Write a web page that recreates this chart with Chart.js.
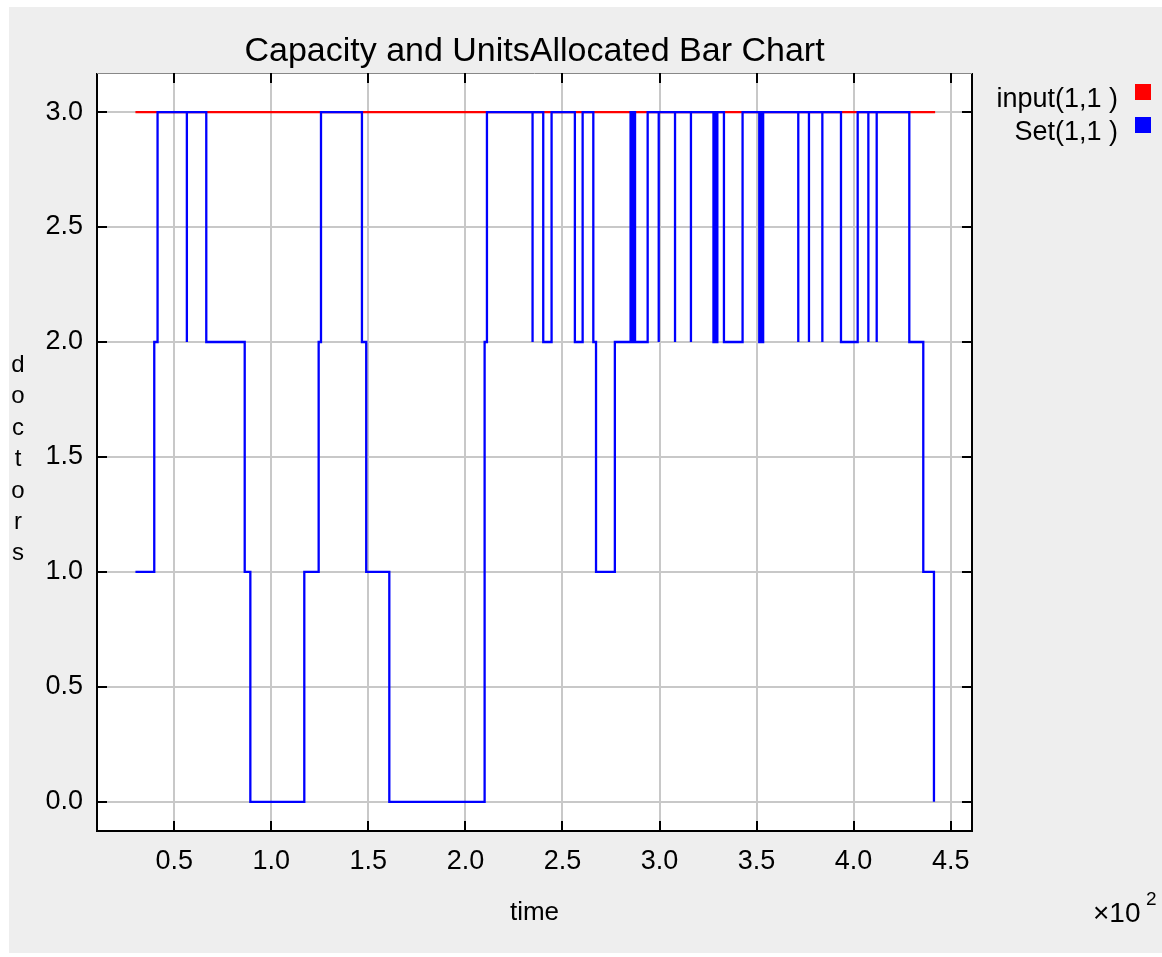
<!DOCTYPE html>
<html>
<head>
<meta charset="utf-8">
<script src="https://cdn.jsdelivr.net/npm/chart.js@4.4.0/dist/chart.umd.min.js"></script>
<style>
html, body { margin: 0; padding: 0; background: #fff; }
#wrap { width: 1162px; height: 957px; }
</style>
</head>
<body>
<div id="wrap"><canvas id="plot" width="1162" height="957"></canvas></div>
<script>
// capacity: flat at 3 for the whole run
var inputTimes = [30, 442];
var inputValues = [3, 3];

// units allocated: time where the level changes, and the new level
var setTimes = [30, 39.7, 41.4, 56.5, 56.5, 66.5, 86.3, 89.2, 117, 124.4, 125.6,
  146.7, 148.9, 160.8, 209.9, 211.1, 234.6, 234.6, 240.1, 244.4, 256.4, 260.4,
  265.9, 267.3, 277, 285.1, 285.9, 286.5, 287.4, 293.9, 299.6, 299.6, 308, 308,
  316.2, 316.2, 327.8, 328.4, 329.2, 329.8, 333.2, 342.8, 351.4, 352, 352.8, 353.4,
  371.5, 371.5, 377, 377, 383.9, 383.9, 393.5, 402.1, 407.6, 407.6, 411.9, 411.9,
  428.7, 435.9, 441.4];
var setValues = [1, 2, 3, 2, 3, 2, 1, 0, 1, 2, 3,
  2, 1, 0, 2, 3, 2, 3, 2, 3, 2, 3,
  2, 1, 2, 3, 2, 3, 2, 3, 2, 3, 2, 3,
  2, 3, 2, 3, 2, 3, 2, 3, 2, 3, 2, 3,
  2, 3, 2, 3, 2, 3, 2, 3, 2, 3, 2, 3,
  2, 1, 0];

var xTicks = [50, 100, 150, 200, 250, 300, 350, 400, 450];
var yTicks = [0, 0.5, 1, 1.5, 2, 2.5, 3];

function points(xs, ys) {
  return xs.map(function (x, i) { return {x: x, y: ys[i]}; });
}

var FONT = '"Liberation Sans", Arial, sans-serif';

var deco = {
  id: 'deco',
  beforeDraw: function (chart) {
    var c = chart.ctx, a = chart.chartArea;
    c.save();
    c.fillStyle = '#ffffff';
    c.fillRect(0, 0, chart.width, chart.height);
    c.fillStyle = '#eeeeee';
    c.fillRect(9, 7, chart.width - 9, chart.height - 11);
    c.fillStyle = '#ffffff';
    c.fillRect(a.left, a.top, a.right - a.left, a.bottom - a.top);
    c.restore();
  },
  afterDraw: function (chart) {
    var c = chart.ctx, a = chart.chartArea;
    var xs = chart.scales.x, ys = chart.scales.y;
    c.save();
    // frame
    c.strokeStyle = '#000';
    c.lineWidth = 2;
    c.beginPath();
    c.moveTo(a.left, a.top); c.lineTo(a.left, a.bottom);
    c.lineTo(a.right, a.bottom); c.lineTo(a.right, a.top);
    c.stroke();
    c.strokeStyle = '#888';
    c.lineWidth = 1;
    c.beginPath();
    c.moveTo(a.left, a.top + 0.5); c.lineTo(a.right, a.top + 0.5);
    c.stroke();
    // inward ticks
    c.strokeStyle = '#000';
    c.lineWidth = 2;
    c.beginPath();
    yTicks.forEach(function (v) {
      var py = Math.round(ys.getPixelForValue(v));
      c.moveTo(a.left, py); c.lineTo(a.left + 10, py);
      c.moveTo(a.right, py); c.lineTo(a.right - 10, py);
    });
    xTicks.forEach(function (v) {
      var px = Math.round(xs.getPixelForValue(v));
      c.moveTo(px, a.bottom); c.lineTo(px, a.bottom - 10);
      c.moveTo(px, a.top); c.lineTo(px, a.top + 10);
    });
    c.stroke();

    c.fillStyle = '#000';
    // title
    c.font = '34px ' + FONT;
    c.textAlign = 'center';
    c.textBaseline = 'alphabetic';
    c.fillText('Capacity and UnitsAllocated Bar Chart', (a.left + a.right) / 2, 61);

    // y label, one letter per line
    c.font = '24px ' + FONT;
    'doctors'.split('').forEach(function (ch, i) {
      c.fillText(ch, 18, 372 + i * 31.4);
    });

    // exponent
    c.textAlign = 'left';
    c.font = '28px ' + FONT;
    c.fillText('\u00d710', 1093, 922);
    c.font = '19px ' + FONT;
    c.fillText('2', 1146, 905);

    // legend
    c.font = '27px ' + FONT;
    c.textAlign = 'right';
    chart.data.datasets.forEach(function (ds, i) {
      c.fillStyle = '#000';
      c.fillText(ds.label, 1118, 107 + i * 33);
      c.fillStyle = ds.borderColor;
      c.fillRect(1135, 84 + i * 33, 16, 16);
    });
    c.restore();
  }
};

new Chart(document.getElementById('plot'), {
  type: 'line',
  data: {
    datasets: [{
      label: 'input(1,1 )',
      data: points(inputTimes, inputValues),
      borderColor: '#ff0000',
      borderWidth: 2.3,
      pointRadius: 0,
      stepped: true,
      order: 1
    }, {
      label: 'Set(1,1 )',
      data: points(setTimes, setValues),
      borderColor: '#0000ff',
      borderWidth: 2.3,
      pointRadius: 0,
      stepped: true,
      order: 0
    }]
  },
  options: {
    responsive: false,
    animation: false,
    layout: { padding: { top: 73, right: 190, left: 0, bottom: 0 } },
    plugins: { legend: { display: false }, tooltip: { enabled: false } },
    scales: {
      x: {
        type: 'linear',
        min: 10.2,
        max: 461,
        afterFit: function (s) { s.height = 126; },
        afterBuildTicks: function (s) {
          s.ticks = xTicks.map(function (v) { return {value: v}; });
        },
        grid: { color: '#c8c8c8', lineWidth: 2, drawTicks: false },
        border: { display: false },
        ticks: {
          padding: 14,
          color: '#000',
          font: { family: FONT, size: 27 },
          maxRotation: 0,
          callback: function (v) { return (v / 100).toFixed(1); }
        },
        title: {
          display: true,
          text: 'time',
          color: '#000',
          font: { family: FONT, size: 26 },
          padding: { top: 0, bottom: 29 }
        }
      },
      y: {
        type: 'linear',
        min: -0.127,
        max: 3.17,
        afterFit: function (s) { s.width = 97; },
        afterBuildTicks: function (s) {
          s.ticks = yTicks.map(function (v) { return {value: v}; });
        },
        grid: { color: '#c8c8c8', lineWidth: 2, drawTicks: false },
        border: { display: false },
        ticks: {
          padding: 14,
          color: '#000',
          font: { family: FONT, size: 27 },
          callback: function (v) { return v.toFixed(1); }
        }
      }
    }
  },
  plugins: [deco]
});
</script>
</body>
</html>
